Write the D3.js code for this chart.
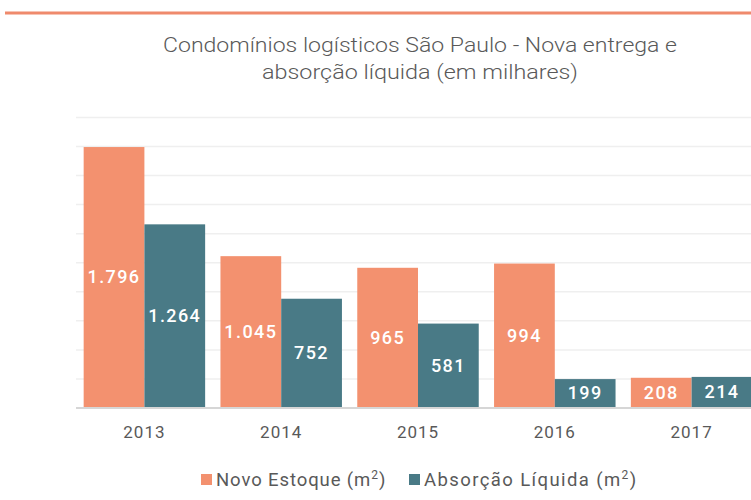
<!DOCTYPE html>
<html>
<head>
<meta charset="utf-8">
<script src="https://cdn.jsdelivr.net/npm/d3@7"></script>
<style>
  body { margin: 0; background: #fff; }
  svg { display: block; }
</style>
</head>
<body>
<svg id="chart" width="751" height="500"></svg>
<script>
const years = ['2013', '2014', '2015', '2016', '2017'];
const novoEstoque = [1796, 1045, 965, 994, 208];
const absorcao = [1264, 752, 581, 199, 214];
const seriesNames = ['Novo Estoque (m²)', 'Absorção Líquida (m²)'];
const yTicks = [0, 200, 400, 600, 800, 1000, 1200, 1400, 1600, 1800, 2000];

const colors = ['#f3916f', '#497a86'];
const ptBR = d3.formatLocale({ decimal: ',', thousands: '.', grouping: [3], currency: ['R$', ''] });
const fmt = ptBR.format(',d');

const svg = d3.select('#chart');
const width = 751;
const plotTop = 117.4, plotBottom = 408;

// orange rule across the top
svg.append('rect')
  .attr('x', 5).attr('y', 11.5).attr('width', width - 5).attr('height', 3)
  .attr('fill', '#ef8a6c');

// title
const title = svg.append('text')
  .attr('text-anchor', 'middle')
  .attr('fill', '#595959')
  .style('font-family', 'Roboto, sans-serif')
  .style('font-weight', '300')
  .style('font-size', '20px');
title.append('tspan').attr('x', 420).attr('y', 52)
  .attr('textLength', 514).attr('lengthAdjust', 'spacingAndGlyphs')
  .text('Condomínios logísticos São Paulo - Nova entrega e');
title.append('tspan').attr('x', 420).attr('y', 79)
  .attr('textLength', 316).attr('lengthAdjust', 'spacingAndGlyphs')
  .text('absorção líquida (em milhares)');

const x = d3.scaleBand()
  .domain(years)
  .range([76, 760])
  .paddingInner(0.112)
  .paddingOuter(0.056);

const x1 = d3.scaleBand()
  .domain([0, 1])
  .range([0, x.bandwidth()]);

const y = d3.scaleLinear()
  .domain([0, 2000])
  .range([plotBottom, plotTop]);

// gridlines
svg.append('g')
  .selectAll('line')
  .data(yTicks.slice(1))
  .join('line')
  .attr('x1', 76).attr('x2', width)
  .attr('y1', d => y(d)).attr('y2', d => y(d))
  .attr('stroke', '#efefef')
  .attr('stroke-width', 1.5);

const rows = years.map((yr, i) => ({ year: yr, vals: [novoEstoque[i], absorcao[i]] }));

const groups = svg.append('g')
  .selectAll('g')
  .data(rows)
  .join('g')
  .attr('transform', d => `translate(${x(d.year)},0)`);

groups.selectAll('rect')
  .data(d => d.vals.map((v, k) => ({ v, k })))
  .join('rect')
  .attr('x', d => x1(d.k))
  .attr('width', x1.bandwidth())
  .attr('y', d => y(d.v))
  .attr('height', d => y(0) - y(d.v))
  .attr('fill', d => colors[d.k]);

groups.selectAll('text')
  .data(d => d.vals.map((v, k) => ({ v, k })))
  .join('text')
  .attr('x', d => x1(d.k) + x1.bandwidth() / 2)
  .attr('y', d => (y(d.v) + y(0)) / 2 + 1)
  .attr('text-anchor', 'middle')
  .attr('dominant-baseline', 'middle')
  .attr('fill', '#fff')
  .style('font-family', 'Roboto, sans-serif')
  .style('font-weight', '500')
  .style('font-size', '18px')
  .style('letter-spacing', '1.4px')
  .text(d => fmt(d.v));

// baseline axis
const xAxis = svg.append('g')
  .attr('transform', `translate(0,${plotBottom})`)
  .call(d3.axisBottom(x).tickSize(0).tickPadding(18));
xAxis.select('.domain').remove();
xAxis.append('line')
  .attr('x1', 76).attr('x2', width)
  .attr('stroke', '#d6d6d6').attr('stroke-width', 2);
xAxis.selectAll('.tick text')
  .attr('fill', '#595959')
  .style('font-family', 'Roboto, sans-serif')
  .style('font-size', '17px')
  .style('letter-spacing', '1px');

// legend
const legendX = [201, 409];
const legendSpacing = ['0.9px', '1.4px'];
const legend = svg.append('g')
  .selectAll('g')
  .data(seriesNames)
  .join('g')
  .attr('transform', (d, i) => `translate(${legendX[i]},474)`);
legend.append('rect')
  .attr('width', 11).attr('height', 11)
  .attr('fill', (d, i) => colors[i]);
legend.append('text')
  .attr('x', 15).attr('y', 12)
  .attr('fill', '#595959')
  .style('font-family', 'Roboto, sans-serif')
  .style('font-size', '18.5px')
  .style('letter-spacing', (d, i) => legendSpacing[i])
  .each(function (d) {
    const t = d3.select(this);
    const base = d.replace('(m²)', '(m');
    t.append('tspan').text(base);
    t.append('tspan').attr('dy', -7).style('font-size', '12px').text('2');
    t.append('tspan').attr('dy', 7).text(')');
  });
</script>
</body>
</html>
